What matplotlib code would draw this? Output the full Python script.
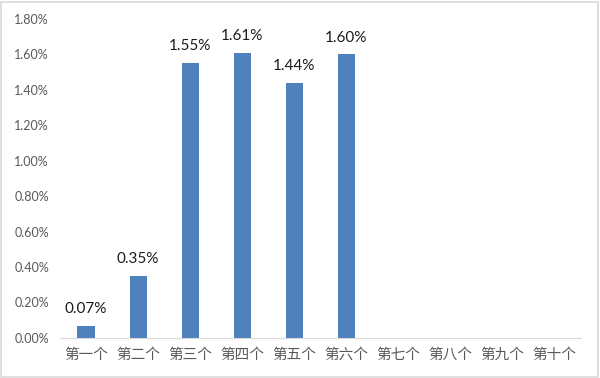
import matplotlib
matplotlib.use('Agg')
import matplotlib.pyplot as plt
from matplotlib.patches import Rectangle
from matplotlib.ticker import FuncFormatter

plt.rcParams['font.family'] = ['Noto Sans CJK SC', 'DejaVu Sans']

categories = ['第一个', '第二个', '第三个', '第四个', '第五个',
              '第六个', '第七个', '第八个', '第九个', '第十个']
values = [0.0007, 0.0035, 0.0155, 0.0161, 0.0144, 0.0160,
          None, None, None, None]
yticks = [i * 0.002 for i in range(10)]

fig = plt.figure(figsize=(6, 3.78), dpi=100)
ax = fig.add_axes([0.1, 0.106, 0.868, 0.844])

xs = [i for i, v in enumerate(values) if v is not None]
vs = [v for v in values if v is not None]
bars = ax.bar(xs, vs, width=0.33, color='#4F81BD')
for x, v in zip(xs, vs):
    ax.annotate('%.2f%%' % (v * 100), (x, v), xytext=(0, 7),
                textcoords='offset points', ha='center', va='bottom',
                fontsize=11, color='#1a1a1a', family='Lato')

ax.set_xlim(-0.5, len(categories) - 0.5)
ax.set_ylim(0, 0.018)
ax.set_yticks(yticks)
ax.yaxis.set_major_formatter(FuncFormatter(lambda y, p: '%.2f%%' % (y * 100)))
ax.set_xticks(range(len(categories)))
ax.set_xticklabels(categories, fontsize=10.5, color='#595959')
for lab in ax.get_yticklabels():
    lab.set_fontsize(9)
    lab.set_color('#595959')
    lab.set_family('Lato')
ax.tick_params(axis='both', length=0)
ax.tick_params(axis='y', pad=8)
ax.tick_params(axis='x', pad=7)
for s in ['top', 'right', 'left']:
    ax.spines[s].set_visible(False)
ax.spines['bottom'].set_color('#D9D9D9')

fig.patches.append(Rectangle((0.002, 0.003), 0.995, 0.993, transform=fig.transFigure,
                             fill=False, edgecolor='#D9D9D9', linewidth=1.2))

fig.savefig('out.png', dpi=100)
